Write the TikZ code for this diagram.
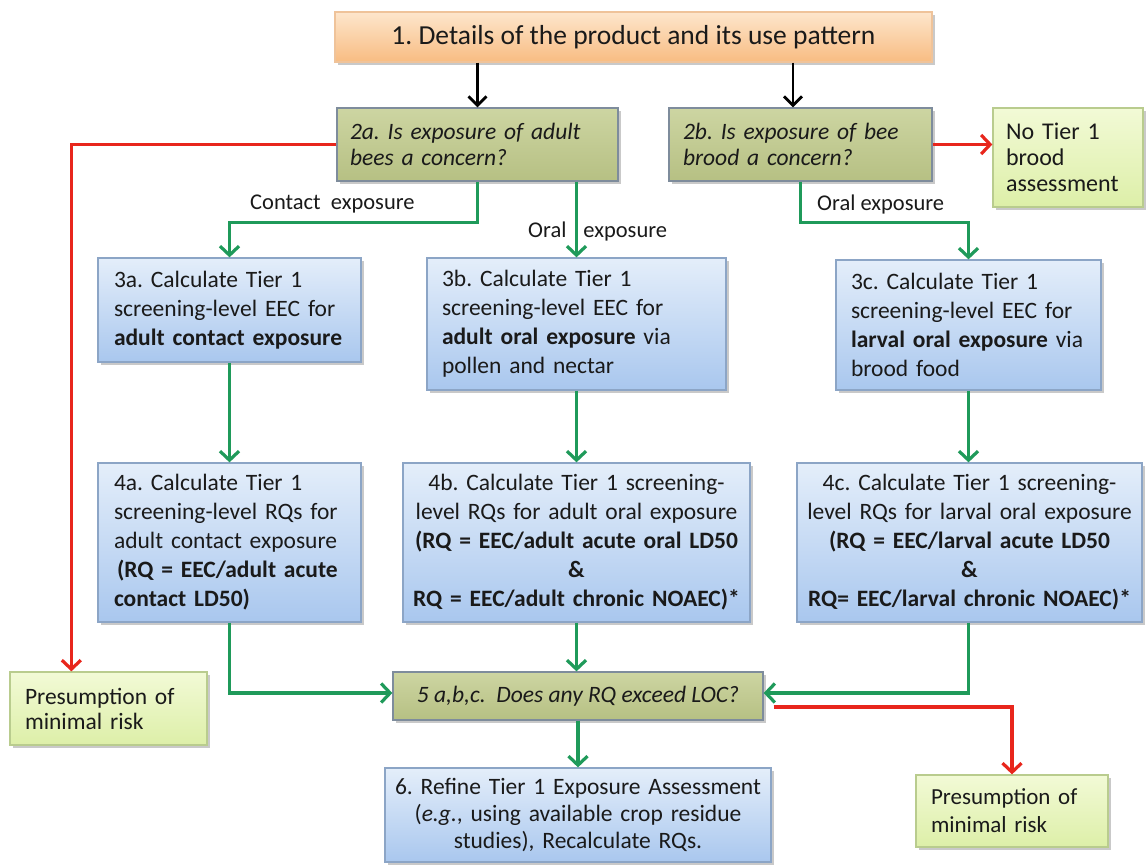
\documentclass[tikz,border=0pt]{standalone}
\usepackage{fontspec}
\setmainfont{Carlito}
\usetikzlibrary{arrows.meta,shadows,calc}
\definecolor{grnln}{HTML}{1F9A5A}
\definecolor{redln}{HTML}{E8261C}
\definecolor{bluetop}{HTML}{E4EEFA}
\definecolor{bluebot}{HTML}{A9C7EE}
\definecolor{bluebd}{HTML}{8CA5C6}
\definecolor{olivetop}{HTML}{CDD5A2}
\definecolor{olivebot}{HTML}{B6C083}
\definecolor{olivebd}{HTML}{7E8C9C}
\definecolor{paletop}{HTML}{F2FAD6}
\definecolor{palebot}{HTML}{DDEFA8}
\definecolor{palebd}{HTML}{B9CC8E}
\definecolor{orgtop}{HTML}{FDE6CC}
\definecolor{orgbot}{HTML}{F8BC82}
\definecolor{orgbd}{HTML}{EFC39A}
\definecolor{txt}{HTML}{1A1A1A}
\tikzset{
  box/.style={draw, line width=1.3pt, rectangle, inner ysep=0pt, text=txt,
    drop shadow={shadow xshift=2.5pt, shadow yshift=-3pt, opacity=0.35, fill=black!60}},
  bluebox/.style={box, draw=bluebd, top color=bluetop, bottom color=bluebot},
  olivebox/.style={box, draw=olivebd, top color=olivetop, bottom color=olivebot},
  palebox/.style={box, draw=palebd, top color=paletop, bottom color=palebot},
  orangebox/.style={box, draw=orgbd, top color=orgtop, bottom color=orgbot},
  fbig/.style={font=\frenchspacing\fontsize{23.5}{29}\selectfont},
  fmid/.style={font=\frenchspacing\fontsize{24}{26}\selectfont},
  fit2/.style={font=\frenchspacing\itshape\fontsize{23.5}{26}\selectfont},
  flab/.style={font=\frenchspacing\fontsize{22.5}{25}\selectfont, text=txt, inner sep=0pt},
  tipg/.style={-{Straight Barb[length=9pt,width=19pt]}},
  garrow/.style={draw=grnln, line width=3.2pt, tipg},
  rarrow/.style={draw=redln, line width=3.2pt, tipg},
  karrow/.style={draw=black, line width=2.8pt, -{Straight Barb[length=9pt,width=18pt]}},
}
\begin{document}
\frenchspacing
\begin{tikzpicture}[x=1pt,y=-1pt]
\useasboundingbox[fill=white] (0,0) rectangle (1147,865);

% boxes
\node[orangebox, minimum width=597pt, minimum height=50pt, font=\frenchspacing\fontsize{27.5}{30}\selectfont] (b1) at (633.5,37) {1. Details of the product and its use pattern};

\node[olivebox, minimum width=281pt, minimum height=73pt, text width=255pt, inner xsep=13pt, align=left, fit2] (a2) at (477.5,144.5) {2a. Is exposure of adult\\bees a concern?};
\node[olivebox, minimum width=263pt, minimum height=73pt, text width=235pt, inner xsep=14pt, align=left, fit2] (c2) at (800.5,144.5) {2b. Is exposure of bee\\brood a concern?};
\node[palebox, minimum width=150pt, minimum height=99pt, text width=124pt, inner xsep=13pt, align=left, fmid] (nt) at (1068,157.5) {No Tier 1\\brood\\assessment};

\node[bluebox, minimum width=263pt, minimum height=104pt, text width=231pt, inner xsep=16pt, align=left, fbig] (a3) at (229.5,310) {3a. Calculate Tier 1\\screening-level EEC for\\\textbf{adult contact exposure}};
\node[bluebox, minimum width=299pt, minimum height=132pt, text width=269pt, inner xsep=15pt, align=left, fbig] (b3) at (576.5,324) {3b. Calculate Tier 1\\screening-level EEC for\\\textbf{adult oral exposure} via\\pollen and nectar};
\node[bluebox, minimum width=265pt, minimum height=130pt, text width=235pt, inner xsep=15pt, align=left, fbig] (c3) at (968.5,325) {3c. Calculate Tier 1\\screening-level EEC for\\\textbf{larval oral exposure} via\\brood food};

\node[bluebox, minimum width=263pt, minimum height=159pt, text width=231pt, inner xsep=16pt, align=left, fbig] (a4) at (229.5,542.5) {4a. Calculate Tier 1\\screening-level RQs for\\adult contact exposure\\\hspace{3pt}\textbf{(RQ = EEC/adult acute}\\\textbf{contact LD50)}};
\node[bluebox, minimum width=347pt, minimum height=159pt, text width=337pt, inner xsep=5pt, align=center, fbig] (b4) at (576.5,542.5) {4b. Calculate Tier 1 screening-\\level RQs for adult oral exposure\\\textbf{(RQ = EEC/adult acute oral LD50}\\\textbf{\&}\\\textbf{RQ = EEC/adult chronic NOAEC)*}};
\node[bluebox, minimum width=345pt, minimum height=159pt, text width=335pt, inner xsep=5pt, align=center, fbig] (c4) at (969.5,542.5) {4c. Calculate Tier 1 screening-\\level RQs for larval oral exposure\\\textbf{(RQ = EEC/larval acute LD50}\\\textbf{\&}\\\textbf{RQ= EEC/larval chronic NOAEC)*}};

\node[olivebox, minimum width=370pt, minimum height=48pt, fit2] (f5) at (578,696) {5 a,b,c.\ \ Does any RQ exceed LOC?};
\node[bluebox, minimum width=386pt, minimum height=94pt, text width=370pt, inner xsep=8pt, align=center, font=\frenchspacing\fontsize{23.5}{27}\selectfont] (s6) at (578,815) {6. Refine Tier 1 Exposure Assessment\\(\textit{e.g.}, using available crop residue\\studies), Recalculate RQs.};

\node[palebox, minimum width=197pt, minimum height=73pt, text width=167pt, inner xsep=15pt, align=left, font=\fontsize{23.5}{25}\selectfont] (pl) at (108.5,708.5) {Presumption of\\minimal risk};
\node[palebox, minimum width=192pt, minimum height=72pt, text width=162pt, inner xsep=15pt, align=left, font=\fontsize{23}{28}\selectfont] (pr) at (1012,811) {Presumption of\\minimal risk};

% labels
\node[flab, anchor=west] (lc) at (250,204) {Contact\ \ exposure};
\node[flab, anchor=west] (lo) at (528,231) {Oral\hspace{17pt}exposure};
\node[flab, anchor=west] (lb) at (817,204) {Oral exposure};

% connectors
\draw[karrow] (b1.south -| a2.north) -- (a2.north);
\draw[karrow] (b1.south -| 793,0) -- (c2.north -| 793,0);

\draw[rarrow] (c2.east) -- (c2.east -| nt.west);
\draw[rarrow] (a2.west) -| ($(pl.north west)+(62,0)$);

\draw[garrow] (a2.south) -- ++(0,41) -| (a3.north);
\draw[garrow] (b3.north |- a2.south) -- (b3.north);
\draw[garrow] (c2.south) -- ++(0,41) -| (c3.north);

\draw[garrow] (a3.south) -- (a4.north);
\draw[garrow] (b3.south) -- (b4.north);
\draw[garrow] (c3.south) -- (c3.south |- c4.north);

\draw[garrow] (a4.south) |- ($(f5.west)+(0,-3)$);
\draw[garrow] (b4.south) -- (b4.south |- f5.north);
\draw[garrow] (c3.south |- c4.south) |- ($(f5.east)+(0,-3)$);

\draw[garrow] (f5.south) -- (s6.north);
\draw[rarrow] ($(f5.east)+(10,11)$) -| (pr.north);
\end{tikzpicture}
\end{document}
